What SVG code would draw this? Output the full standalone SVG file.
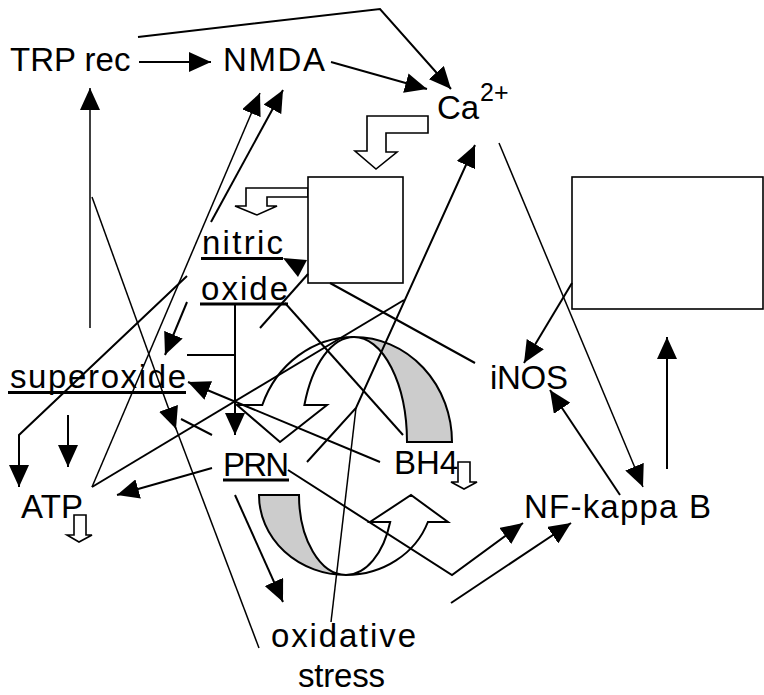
<svg xmlns="http://www.w3.org/2000/svg" width="764" height="695" viewBox="0 0 764 695">
<style>
.t{font-family:"Liberation Sans",Arial,sans-serif;font-size:33px;fill:#000}
.c{fill:none;stroke:#000;stroke-width:2}
.thin{stroke-width:1.5}
.blk{fill:#fff;stroke:#000;stroke-width:1.6}
.gry{fill:#cccccc;stroke:#000;stroke-width:2}
.wht{fill:none;stroke:#000;stroke-width:2}
.ul{fill:#000}
</style>
<defs>
<marker id="ah" markerUnits="userSpaceOnUse" markerWidth="22" markerHeight="20" viewBox="0 0 22 20" refX="22" refY="10" orient="auto"><path d="M0,0 L22,10 L0,20 z" fill="#000"/></marker>
</defs>
<rect width="764" height="695" fill="#fff"/>

<g id="shapes">
<g id="curved-arrow-upper">
<path class="gry" d="M354,337 A98,105 0 0 1 452,442 L407,442 A53,105 0 0 0 354,337 Z"/>
<path class="wht" d="M354,337 A98,105 0 0 0 262.3,405 L237,405 L280,442 L327,405 L304.4,405 A53,105 0 0 1 354,337 Z"/>
</g>
<g id="curved-arrow-lower">
<path class="gry" d="M259,495 A87,80 0 0 0 346,575 A47,80 0 0 1 299,495 Z"/>
<path class="wht" d="M346,575 A87,80 0 0 0 427.9,522 L448,522 L411,495 L370,522 L390.2,522 A47,80 0 0 1 346,575 Z"/>
</g>
<polygon id="block-arrow-ca" class="blk" points="428,116 367,116 367,151 355,151 376,169 397,152 386,152 386,133 428,133"/>
<polygon id="block-arrow-no" class="blk" points="308,188 246,188 246,206 235,206 257,215 277,206 267,206 267,197 308,197"/>
<polygon id="block-arrow-atp" class="blk" points="74,515 86,515 86,535 92,535 79,542 67,535 74,535"/>
<polygon id="block-arrow-bh4" class="blk" points="458,462 470,462 470,482 477,482 464,489 451,482 458,482"/>
</g>

<g id="box1"><rect x="308" y="177" width="95" height="106" class="blk"/></g>
<g id="box2"><rect x="572" y="177" width="191" height="132" class="blk"/></g>

<g id="connectors">
<polyline class="c" points="138,37 380,9 451,89" marker-end="url(#ah)"/>
<line class="c" x1="139" y1="62" x2="211" y2="62" marker-end="url(#ah)"/>
<line class="c" x1="331" y1="62" x2="427" y2="89" marker-end="url(#ah)"/>
<line class="c thin" x1="90" y1="328" x2="90" y2="88" marker-end="url(#ah)"/>
<line class="c thin" x1="92" y1="487" x2="260" y2="93" marker-end="url(#ah)"/>
<line class="c" x1="211" y1="222" x2="283" y2="90" marker-end="url(#ah)"/>
<polyline class="c" points="187,276 19,435 19,487" marker-end="url(#ah)"/>
<line class="c" x1="68" y1="415" x2="68" y2="467" marker-end="url(#ah)"/>
<line class="c thin" x1="92" y1="197" x2="176" y2="429" marker-end="url(#ah)"/>
<line class="c thin" x1="175" y1="426" x2="259" y2="648"/>
<line class="c" x1="212" y1="435" x2="181" y2="419"/>
<line class="c" x1="187" y1="302" x2="165" y2="355" marker-end="url(#ah)"/>
<line class="c" x1="187" y1="355" x2="235" y2="355"/>
<line class="c" x1="235" y1="303" x2="235" y2="435" marker-end="url(#ah)"/>
<line class="c" x1="92" y1="487" x2="404" y2="300"/>
<line class="c" x1="380" y1="462" x2="188" y2="382" marker-end="url(#ah)"/>
<line class="c" x1="285" y1="303" x2="403" y2="435"/>
<line class="c" x1="330" y1="283" x2="475" y2="363"/>
<line class="c" x1="260" y1="328" x2="308" y2="274"/>
<polygon points="283,258 307,260 298,277" fill="#000"/>
<polyline class="c" points="307,462 356,408 475,145" marker-end="url(#ah)"/>
<line class="c thin" x1="331" y1="622" x2="356" y2="408"/>
<line class="c thin" x1="499" y1="143" x2="643" y2="487" marker-end="url(#ah)"/>
<line class="c" x1="620" y1="495" x2="550" y2="390" marker-end="url(#ah)"/>
<line class="c" x1="667" y1="469" x2="667" y2="337" marker-end="url(#ah)"/>
<line class="c" x1="572" y1="283" x2="524" y2="363" marker-end="url(#ah)"/>
<polyline class="c" points="288,470 452,575 523,523" marker-end="url(#ah)"/>
<line class="c" x1="451" y1="603" x2="571" y2="523" marker-end="url(#ah)"/>
<line class="c" x1="235" y1="495" x2="283" y2="602" marker-end="url(#ah)"/>
<line class="c" x1="212" y1="468" x2="117" y2="495" marker-end="url(#ah)"/>
</g>

<g id="node-trp"><text class="t" x="10" y="71">TRP rec</text></g>
<g id="node-nmda"><text class="t" x="223" y="71" textLength="102">NMDA</text></g>
<g id="node-ca"><text class="t" x="437" y="119">Ca</text><text class="t" x="480" y="101" style="font-size:25px">2+</text></g>
<g id="node-nitric"><text class="t" x="202" y="254" textLength="81">nitric</text><rect class="ul" x="201" y="257" width="82" height="3"/></g>
<g id="node-oxide"><text class="t" x="201" y="300" textLength="87">oxide</text><rect class="ul" x="200" y="302.5" width="88" height="3"/></g>
<g id="node-superoxide"><text class="t" x="10" y="388" textLength="176">superoxide</text><rect class="ul" x="8" y="391" width="178" height="3"/></g>
<g id="node-prn"><text class="t" x="223" y="476" textLength="66">PRN</text><rect class="ul" x="223" y="478.5" width="66" height="3"/></g>
<g id="node-bh4"><text class="t" x="394" y="474" textLength="64">BH4</text></g>
<g id="node-inos"><text class="t" x="490" y="389" textLength="78">iNOS</text></g>
<g id="node-atp"><text class="t" x="21" y="518" textLength="62">ATP</text></g>
<g id="node-nfkb"><text class="t" x="524" y="518" textLength="187">NF-kappa B</text></g>
<g id="node-ox"><text class="t" x="271" y="647" textLength="145">oxidative</text><text class="t" x="298" y="687" textLength="87">stress</text></g>
</svg>
